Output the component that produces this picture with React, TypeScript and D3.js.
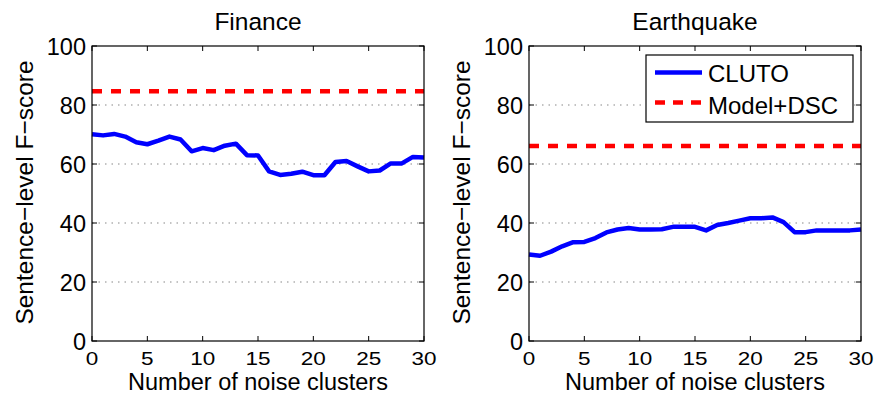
import React from "react";
import * as d3 from "d3";

const clusters = d3.range(0, 31);
const financeCluto = [70.1, 69.7, 70.2, 69.3, 67.4, 66.7, 67.9, 69.3, 68.3, 64.3, 65.4, 64.7, 66.2, 66.9, 63.0, 62.9, 57.5, 56.3, 56.7, 57.4, 56.2, 56.2, 60.7, 61.0, 59.2, 57.5, 57.8, 60.2, 60.2, 62.4, 62.2];
const financeDSC = 84.7;
const quakeCluto = [29.3, 28.9, 30.3, 32.1, 33.5, 33.6, 34.9, 36.8, 37.8, 38.3, 37.8, 37.8, 37.9, 38.7, 38.7, 38.7, 37.5, 39.3, 40.0, 40.8, 41.6, 41.6, 41.9, 40.3, 36.9, 36.9, 37.5, 37.5, 37.5, 37.5, 37.8];
const quakeDSC = 66.1;
const xTicks = [0, 5, 10, 15, 20, 25, 30];
const yTicks = [0, 20, 40, 60, 80, 100];
const legendLabels = ["CLUTO", "Model+DSC"];

const FONT = "'Liberation Sans', Arial, Helvetica, sans-serif";

function Panel({ left, title, cluto, dsc, legend }: { left: number; title: string; cluto: number[]; dsc: number; legend: boolean }) {
  const top = 46, bottom = 341, width = 332;
  const x = d3.scaleLinear().domain([0, 30]).range([left, left + width]);
  const y = d3.scaleLinear().domain([0, 100]).range([bottom, top]);
  const line = d3.line<number>().x((_, i) => x(clusters[i])).y((d) => y(d));
  const tl = 5;
  return (
    <g>
      <text x={left + width / 2} y={29.5} textAnchor="middle" fontSize={24.5} fontFamily={FONT}>{title}</text>
      {yTicks.filter((t) => t > 0 && t < 100).map((t) => (
        <line key={"g" + t} x1={left} x2={left + width} y1={y(t)} y2={y(t)} stroke="#888" strokeWidth={1.2} strokeDasharray="1.5,5" />
      ))}
      {yTicks.map((t) => (
        <g key={"y" + t}>
          <line x1={left} x2={left + tl} y1={y(t)} y2={y(t)} stroke="#000" />
          <line x1={left + width - tl} x2={left + width} y1={y(t)} y2={y(t)} stroke="#000" />
          <text x={left - 6} y={y(t) + 9} textAnchor="end" fontSize={23.5} fontFamily={FONT}>{t}</text>
        </g>
      ))}
      {xTicks.map((t) => (
        <g key={"x" + t}>
          <line x1={x(t)} x2={x(t)} y1={bottom} y2={bottom - tl} stroke="#000" />
          <line x1={x(t)} x2={x(t)} y1={top} y2={top + tl} stroke="#000" />
          <text transform={`translate(${x(t)},${bottom + 24}) scale(1,0.82)`} textAnchor="middle" fontSize={22.5} fontFamily={FONT}>{t}</text>
        </g>
      ))}
      <line x1={x(0)} x2={x(30)} y1={y(dsc)} y2={y(dsc)} stroke="#ff0000" strokeWidth={4.5} strokeDasharray="10,9" />
      <path d={line(cluto) || ""} fill="none" stroke="#0000ff" strokeWidth={4.5} strokeLinejoin="round" />
      <rect x={left} y={top} width={width} height={bottom - top} fill="none" stroke="#000" strokeWidth={1.2} />
      <text x={left + width / 2} y={389.8} textAnchor="middle" fontSize={23.5} fontFamily={FONT}>Number of noise clusters</text>
      <text transform={`translate(${left - 59},${(top + bottom) / 2 - 1}) rotate(-90)`} textAnchor="middle" fontSize={24.5} fontFamily={FONT}>Sentence−level F−score</text>
      {legend && (
        <g>
          <rect x={646} y={55} width={207} height={67} fill="#fff" stroke="#000" strokeWidth={1.2} />
          <line x1={655} x2={702} y1={72.5} y2={72.5} stroke="#0000ff" strokeWidth={4.5} />
          <line x1={655} x2={702} y1={102.5} y2={102.5} stroke="#ff0000" strokeWidth={4.5} strokeDasharray="10,8" />
          <text x={708} y={81.5} fontSize={24} fontFamily={FONT}>{legendLabels[0]}</text>
          <text x={708} y={114} fontSize={24} fontFamily={FONT}>{legendLabels[1]}</text>
        </g>
      )}
    </g>
  );
}

export default function App() {
  return (
    <svg width={878} height={395} style={{ position: "absolute", left: 0, top: 0, background: "#fff" }}>
      <rect width={878} height={395} fill="#fff" />
      <Panel left={92} title="Finance" cluto={financeCluto} dsc={financeDSC} legend={false} />
      <Panel left={529} title="Earthquake" cluto={quakeCluto} dsc={quakeDSC} legend={true} />
    </svg>
  );
}
